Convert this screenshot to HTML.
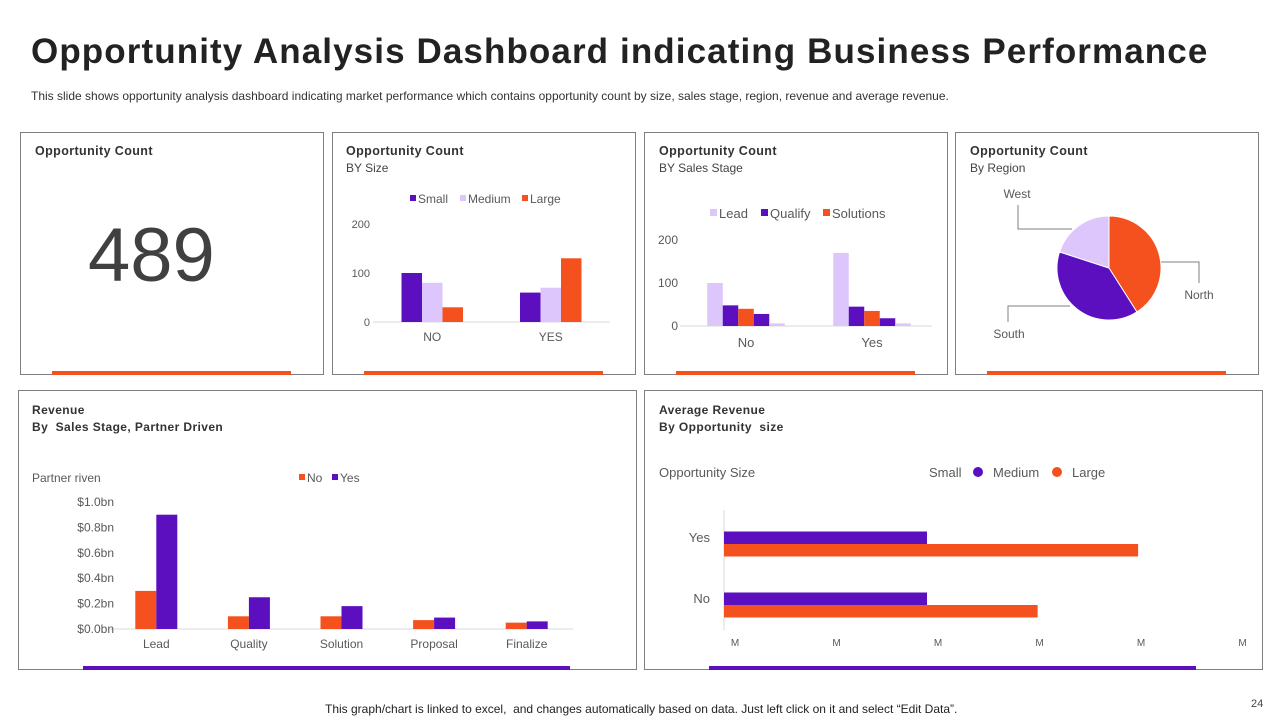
<!DOCTYPE html>
<html><head><meta charset="utf-8">
<style>
body{margin:0;width:1280px;height:720px;background:#fff;font-family:"Liberation Sans",sans-serif;overflow:hidden;position:relative}
.abs{position:absolute}
.panel{position:absolute;border:1px solid #7f7f7f;box-sizing:border-box}
.h{font-weight:bold;font-size:12.5px;color:#333;letter-spacing:0.4px}
.s{font-size:12px;color:#444}
svg text{font-family:"Liberation Sans",sans-serif}
</style></head><body>
<div class="abs" style="left:31px;top:32px;font-size:35px;font-weight:bold;color:#222;letter-spacing:1.1px">Opportunity Analysis Dashboard indicating Business Performance</div>
<div class="abs" style="left:31px;top:89px;font-size:12px;color:#333">This slide shows opportunity analysis dashboard indicating market performance which contains opportunity count by size, sales stage, region, revenue and average revenue.</div>

<div class="panel" style="left:20px;top:132px;width:304px;height:243px"></div>
<div class="panel" style="left:332px;top:132px;width:304px;height:243px"></div>
<div class="panel" style="left:644px;top:132px;width:304px;height:243px"></div>
<div class="panel" style="left:955px;top:132px;width:304px;height:243px"></div>
<div class="panel" style="left:18px;top:390px;width:619px;height:280px"></div>
<div class="panel" style="left:644px;top:390px;width:619px;height:280px"></div>

<div class="abs h" style="left:35px;top:144px">Opportunity Count</div>
<div class="abs" style="left:88px;top:212px;font-size:76px;color:#404040">489</div>

<div class="abs h" style="left:346px;top:144px">Opportunity Count</div>
<div class="abs s" style="left:346px;top:161px">BY Size</div>
<div class="abs h" style="left:659px;top:144px">Opportunity Count</div>
<div class="abs s" style="left:659px;top:161px">BY Sales Stage</div>
<div class="abs h" style="left:970px;top:144px">Opportunity Count</div>
<div class="abs s" style="left:970px;top:161px">By Region</div>
<div class="abs h" style="left:32px;top:403px;font-size:12px">Revenue</div>
<div class="abs h" style="left:32px;top:420px;font-size:12px">By&nbsp; Sales Stage, Partner Driven</div>
<div class="abs h" style="left:659px;top:403px;font-size:12px">Average Revenue</div>
<div class="abs h" style="left:659px;top:420px;font-size:12px">By Opportunity&nbsp; size</div>

<div class="abs" style="left:52px;top:371px;width:239px;height:4px;background:#f4511e"></div>
<div class="abs" style="left:364px;top:371px;width:239px;height:4px;background:#f4511e"></div>
<div class="abs" style="left:676px;top:371px;width:239px;height:4px;background:#f4511e"></div>
<div class="abs" style="left:987px;top:371px;width:239px;height:4px;background:#f4511e"></div>
<div class="abs" style="left:83px;top:666px;width:487px;height:4px;background:#5b0fbf"></div>
<div class="abs" style="left:709px;top:666px;width:487px;height:4px;background:#5b0fbf"></div>

<div class="abs" style="left:325px;top:702px;font-size:12px;color:#222">This graph/chart is linked to excel,&nbsp; and changes automatically based on data. Just left click on it and select “Edit Data”.</div>
<div class="abs" style="left:1251px;top:698px;font-size:11px;color:#444">24</div>

<svg id="svg" class="abs" style="left:0;top:0" width="1280" height="720"></svg>

<script>
const P='#5b0fbf',L='#dcc6fb',O='#f4511e';
// Chart: by size
const sizeCats=['NO','YES'];
const sizeSmall=[100,60];
const sizeMedium=[80,70];
const sizeLarge=[30,130];
const sizeTicks=[0,100,200];
// Chart: by stage
const stageCats=['No','Yes'];
const stageLead=[100,170];
const stageQualify=[48,45];
const stageSolutions=[40,35];
const stageS4=[28,18];
const stageS5=[6,6];
const stageTicks=[0,100,200];
// Pie
const regionNames=['North','South','West'];
const regionValues=[41,39,20];
// Revenue
const revCats=['Lead','Quality','Solution','Proposal','Finalize'];
const revNo=[0.3,0.1,0.1,0.07,0.05];
const revYes=[0.9,0.25,0.18,0.09,0.06];
const revTicks=[0,0.2,0.4,0.6,0.8,1.0];
// Avg revenue
const avgCats=['Yes','No'];
const avgMedium=[2,2];
const avgLarge=[4.08,3.09];
const avgTicks=[0,1,2,3,4,5];

const svg=document.getElementById('svg');
const NS='http://www.w3.org/2000/svg';
function mk(t,a,name,txt){const e=document.createElementNS(NS,t);for(const k in a)e.setAttribute(k,a[k]);


if(txt!==undefined)e.textContent=txt;svg.appendChild(e);return e;}
function txt(x,y,s,name,size,anchor,col){return mk('text',{x:x,y:y,'font-size':size||12,'text-anchor':anchor||'start',fill:col||'#595959'},name,s);}

// ---- size chart
(function(){const y0=322,k=0.49,x0=373,x1=610;const yv=v=>y0-v*k;
const cw=(x1-x0)/sizeCats.length,bw=20.5;
mk('line',{x1:x0,x2:x1,y1:y0,y2:y0,stroke:'#d9d9d9'},'size-axis');
sizeTicks.forEach(t=>txt(370,yv(t)+4,t,'size-tick',11,'end'));
const ser=[[sizeSmall,P,'small'],[sizeMedium,L,'medium'],[sizeLarge,O,'large']];
sizeCats.forEach((c,i)=>{const cx=x0+cw*(i+0.5);
ser.forEach((s,j)=>{const v=s[0][i];mk('rect',{x:cx-bw*1.5+j*bw,y:yv(v),width:bw,height:v*k,fill:s[1]},'size-bar-'+s[2]+'-'+c);});
txt(cx,341,c,'size-x-label',12,'middle');});
[['Small',P,410],['Medium',L,460],['Large',O,522]].forEach(l=>{mk('rect',{x:l[2],y:195,width:6,height:6,fill:l[1]},'size-legend-marker');txt(l[2]+8,203,l[0],'size-legend-entry',12);});
})();

// ---- stage chart
(function(){const y0=326,k=0.43,x0=680,x1=932;const yv=v=>y0-v*k;
const cw=(x1-x0)/stageCats.length,bw=15.5;
mk('line',{x1:x0,x2:x1,y1:y0,y2:y0,stroke:'#d9d9d9'},'stage-axis');
stageTicks.forEach(t=>txt(678,yv(t)+4,t,'stage-tick',12,'end'));
const ser=[[stageLead,L,'lead'],[stageQualify,P,'qualify'],[stageSolutions,O,'solutions'],[stageS4,P,'s4'],[stageS5,L,'s5']];
stageCats.forEach((c,i)=>{const cx=x0+cw*(i+0.5)+3;
ser.forEach((s,j)=>{const v=s[0][i];mk('rect',{x:cx-bw*2.5+j*bw,y:yv(v),width:bw,height:v*k,fill:s[1]},'stage-bar-'+s[2]+'-'+c);});
txt(cx,347,c,'stage-x-label',13,'middle');});
[['Lead',L,710],['Qualify',P,761],['Solutions',O,823]].forEach(l=>{mk('rect',{x:l[2],y:209,width:7,height:7,fill:l[1]},'stage-legend-marker');txt(l[2]+9,218,l[0],'stage-legend-entry',13);});
})();

// ---- pie
(function(){const cx=1109,cy=268,r=52;const tot=regionValues.reduce((a,b)=>a+b,0);
const cols=[O,P,L];let a=0;
regionValues.forEach((v,i)=>{const a2=a+v/tot*2*Math.PI;
const p=(t)=>[cx+r*Math.sin(t),cy-r*Math.cos(t)];const s=p(a),e=p(a2);
mk('path',{d:`M${cx},${cy}L${s[0]},${s[1]}A${r},${r} 0 ${a2-a>Math.PI?1:0} 1 ${e[0]},${e[1]}Z`,fill:cols[i],stroke:'#fff','stroke-width':1},'pie-slice-'+regionNames[i].toLowerCase());a=a2;});
mk('polyline',{points:'1161,262 1199,262 1199,283',fill:'none',stroke:'#7f7f7f'},'leader-north');
mk('polyline',{points:'1018,205 1018,229 1072,229',fill:'none',stroke:'#7f7f7f'},'leader-west');
mk('polyline',{points:'1008,322 1008,306 1070,306',fill:'none',stroke:'#7f7f7f'},'leader-south');
txt(1199,299,'North','pie-label-north',12,'middle');
txt(1017,198,'West','pie-label-west',12,'middle');
txt(1009,338,'South','pie-label-south',12,'middle');
})();

// ---- revenue
(function(){const y0=629,k=127,x0=110,x1=573;const yv=v=>y0-v*k;
const cw=(x1-x0)/revCats.length,bw=21;
mk('line',{x1:x0,x2:x1,y1:y0,y2:y0,stroke:'#d9d9d9'},'revenue-axis');
revTicks.forEach(t=>txt(114,yv(t)+4,'$'+t.toFixed(1)+'bn','revenue-tick',12,'end'));
revCats.forEach((c,i)=>{const cx=x0+cw*(i+0.5);
mk('rect',{x:cx-bw,y:yv(revNo[i]),width:bw,height:revNo[i]*k,fill:O},'revenue-bar-no-'+c);
mk('rect',{x:cx,y:yv(revYes[i]),width:bw,height:revYes[i]*k,fill:P},'revenue-bar-yes-'+c);
txt(cx,648,c,'revenue-x-label',12,'middle');});
txt(32,482,'Partner riven','revenue-legend-title',12);
mk('rect',{x:299,y:474,width:6,height:6,fill:O},'revenue-legend-marker');txt(307,482,'No','revenue-legend-entry',12);
mk('rect',{x:332,y:474,width:6,height:6,fill:P},'revenue-legend-marker');txt(340,482,'Yes','revenue-legend-entry',12);
})();

// ---- avg revenue
(function(){const x0=724,k=101.5;const xv=v=>x0+v*k;const bh=12.5;
const cy=[544,605];
mk('line',{x1:x0,x2:x0,y1:510,y2:630,stroke:'#d9d9d9'},'avg-axis');
avgCats.forEach((c,i)=>{
mk('rect',{x:x0,y:cy[i]-bh,width:avgMedium[i]*k,height:bh,fill:P},'avg-bar-medium-'+c);
mk('rect',{x:x0,y:cy[i],width:avgLarge[i]*k,height:bh,fill:O},'avg-bar-large-'+c);
txt(710,cy[i]-2,c,'avg-y-label',13,'end');});
avgTicks.forEach(t=>txt(xv(t)+11,646,'M','avg-tick',10,'middle'));
txt(659,477,'Opportunity Size','avg-legend-title',13);
txt(929,477,'Small','avg-legend-entry',13);
mk('circle',{cx:978,cy:472,r:5,fill:P},'avg-legend-marker');
txt(993,477,'Medium','avg-legend-entry',13);
mk('circle',{cx:1057,cy:472,r:5,fill:O},'avg-legend-marker');
txt(1072,477,'Large','avg-legend-entry',13);
})();
</script>
</body></html>
